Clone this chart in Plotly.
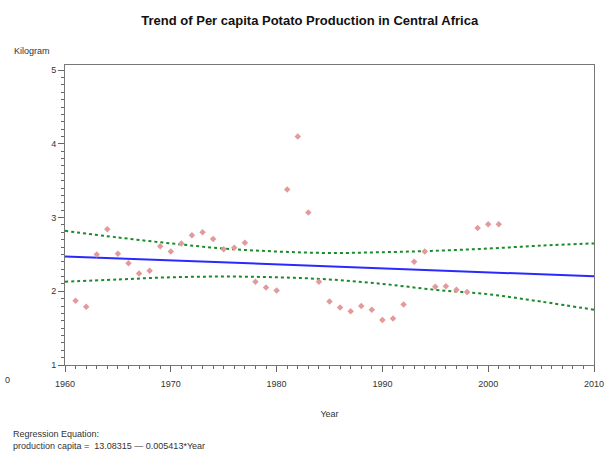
import plotly.graph_objects as go

years = list(range(1961, 2002))
production = [1.87, 1.79, 2.50, 2.84, 2.51, 2.38, 2.24, 2.28, 2.61, 2.54,
              2.65, 2.76, 2.80, 2.71, 2.57, 2.59, 2.66, 2.13, 2.05, 2.01,
              3.38, 4.10, 3.07, 2.13, 1.86, 1.78, 1.73, 1.80, 1.75, 1.61,
              1.63, 1.82, 2.40, 2.54, 2.06, 2.07, 2.02, 1.99, 2.86, 2.91,
              2.91]

# Regression equation printed on the chart
intercept = 13.08315
slope = -0.005413
line_years = [1960, 2010]

# Confidence limits
band_years = [1960, 1965, 1970, 1975, 1980, 1985, 1990, 1995, 2000, 2005, 2010]
upper_band = [2.82, 2.73, 2.65, 2.58, 2.54, 2.52, 2.53, 2.55, 2.58, 2.62, 2.65]
lower_band = [2.13, 2.16, 2.19, 2.20, 2.19, 2.16, 2.10, 2.02, 1.96, 1.86, 1.75]

x_ticks = [1960, 1970, 1980, 1990, 2000, 2010]
y_ticks = [1, 2, 3, 4, 5]

fit_vals = [intercept + slope * y for y in line_years]

fig = go.Figure()
fig.add_trace(go.Scatter(x=band_years, y=upper_band, mode="lines",
                         line=dict(color="#1a8a2a", width=2, dash="dot", shape="spline"),
                         hoverinfo="skip"))
fig.add_trace(go.Scatter(x=band_years, y=lower_band, mode="lines",
                         line=dict(color="#1a8a2a", width=2, dash="dot", shape="spline"),
                         hoverinfo="skip"))
fig.add_trace(go.Scatter(x=line_years, y=fit_vals, mode="lines",
                         line=dict(color="#2a2aff", width=2)))
fig.add_trace(go.Scatter(x=years, y=production, mode="markers",
                         marker=dict(color="#e39a9a", size=5, symbol="diamond")))

axis_font = dict(family="Liberation Sans, Arial, sans-serif", size=9, color="#333")

fig.update_layout(
    width=605, height=454,
    margin=dict(l=65, r=11, t=65, b=89, autoexpand=False),
    paper_bgcolor="white", plot_bgcolor="white",
    showlegend=False,
    title=dict(text="<b>Trend of Per capita Potato Production in Central Africa</b>",
               x=0.512, xanchor="center", y=0.955, yanchor="middle",
               font=dict(family="Liberation Sans, Arial, sans-serif", size=13, color="#111")),
    xaxis=dict(range=[1960, 2010], tickvals=x_ticks, ticks="outside", ticklen=6,
               tickcolor="#666", showline=True, linecolor="#777", linewidth=1, mirror=True,
               showgrid=False, zeroline=False, tickfont=axis_font, automargin=False,
               ticklabelstandoff=4,
               minor=dict(dtick=1, ticks="outside", ticklen=3, tickcolor="#666", showgrid=False),
               title=dict(text="Year", font=axis_font, standoff=22)),
    yaxis=dict(range=[1, 5.07], tickvals=y_ticks, ticks="outside", ticklen=6,
               tickcolor="#666", showline=True, linecolor="#777", linewidth=1, mirror=True,
               showgrid=False, zeroline=False, tickfont=axis_font, automargin=False,
               minor=dict(dtick=0.1, ticks="outside", ticklen=3, tickcolor="#666", showgrid=False)),
)

ann_font = dict(family="Liberation Sans, Arial, sans-serif", size=9, color="#333")
fig.add_annotation(text="Kilogram", xref="paper", yref="paper", x=-0.1, y=1.025,
                   xanchor="left", yanchor="bottom", showarrow=False, font=ann_font)
fig.add_annotation(text="0", xref="paper", yref="paper", x=-0.118, y=-0.05,
                   xanchor="left", yanchor="middle", showarrow=False, font=ann_font)
fig.add_annotation(text="Regression Equation:<br>production capita =  13.08315 \u2014 0.005413*Year",
                   xref="paper", yref="paper", x=-0.102, y=-0.205, align="left",
                   xanchor="left", yanchor="top", showarrow=False, font=ann_font)

fig.write_html("out.html")
